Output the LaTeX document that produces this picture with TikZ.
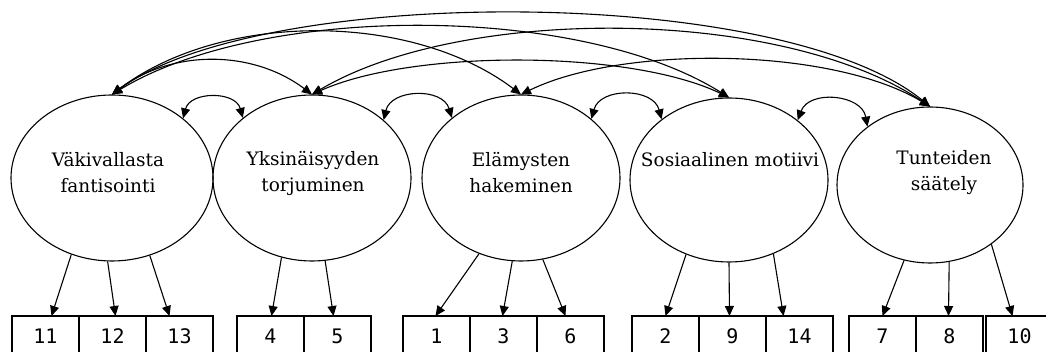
\documentclass[tikz,border=0pt]{standalone}
\usepackage{fontspec}
\setmainfont{DejaVu Serif}
\newfontfamily\numfont{DejaVu Sans Mono}
\usetikzlibrary{arrows.meta, positioning, shapes.geometric}

\begin{document}
\begin{tikzpicture}[
    x=1pt, y=1pt,
    factor/.style={draw, ellipse, line width=1.1pt, inner sep=0pt},
    ftext/.style={align=center, inner sep=0pt, font=\fontsize{18.5}{26}\selectfont},
    item/.style={draw, line width=1.2pt, minimum width=67pt, minimum height=40pt, inner sep=0pt, outer sep=0pt, font=\numfont\fontsize{20}{22}\selectfont},
    arrow/.style={-{Triangle[length=10pt, width=9pt]}, line width=1.1pt},
    cov/.style={{Triangle[length=10pt, width=9pt]}-{Triangle[length=10pt, width=9pt]}, line width=1.1pt},
]
\useasboundingbox (0,0) rectangle (1046,352);

\node[factor, minimum width=202pt, minimum height=166pt] (e1) at (112,174) {};
\node[factor, minimum width=198pt, minimum height=166pt] (e2) at (312,174) {};
\node[factor, minimum width=198pt, minimum height=166pt] (e3) at (521,174) {};
\node[factor, minimum width=198pt, minimum height=164pt] (e4) at (729,172) {};
\node[factor, minimum width=186pt, minimum height=156pt] (e5) at (930,167) {};

\node[ftext] (t1) at ([shift={(-4,5)}]e1.center) {Väkivallasta\\fantisointi};
\node[ftext] (t2) at ([shift={(1,5)}]e2.center) {Yksinäisyyden\\torjuminen};
\node[ftext] (t3) at ([shift={(0,5)}]e3.center) {Elämysten\\hakeminen};
\node[ftext] (t4) at ([shift={(1,20)}]e4.center) {Sosiaalinen motiivi};
\node[ftext] (t5) at ([shift={(14,12)}]e5.center) {Tunteiden\\säätely};

\node[item, anchor=north west] (b11) at (12,36) {11};
\node[item, right=0pt of b11] (b12) {12};
\node[item, right=0pt of b12] (b13) {13};
\node[item, anchor=north west] (b4) at (237,36) {4};
\node[item, right=0pt of b4] (b5) {5};
\node[item, anchor=north west] (b1) at (403,36) {1};
\node[item, right=0pt of b1] (b3) {3};
\node[item, right=0pt of b3] (b6) {6};
\node[item, anchor=north west] (b2) at (632,36) {2};
\node[item, right=0pt of b2] (b9) {9};
\node[item, right=0pt of b9] (b14) {14};
\node[item, anchor=north west] (b7) at (849,36) {7};
\node[item, right=0pt of b7] (b8) {8};
\node[item, anchor=north west] (b10) at (986,36) {10};

\draw[arrow] (e1.242) -- ([xshift=6pt]b11.north);
\draw[arrow] (e1.267) -- ([xshift=3pt]b12.north);
\draw[arrow] (e1.296) -- ([xshift=-10pt]b13.north);
\draw[arrow] (e2.249) -- ([xshift=1pt]b4.north);
\draw[arrow] (e2.279) -- ([xshift=-4pt]b5.north);
\draw[arrow] (e3.241) -- ([xshift=-1pt]b1.north);
\draw[arrow] (e3.264) -- ([xshift=-1pt]b3.north);
\draw[arrow] (e3.285) -- ([xshift=-5pt]b6.north);
\draw[arrow] (e4.240) -- (b2.north);
\draw[arrow] (e4.270) -- ([xshift=-3pt]b9.north);
\draw[arrow] (e4.301) -- ([xshift=-16pt]b14.north);
\draw[arrow] (e5.251) -- (b7.north);
\draw[arrow] (e5.284) -- ([xshift=-1pt]b8.north);
\draw[arrow] (e5.316) -- ([xshift=-7pt]b10.north);

\draw[cov] (e1.40) to[bend left=75, looseness=1.2] (e2.139);
\draw[cov] (e2.39) to[bend left=75, looseness=1.2] (e3.139);
\draw[cov] (e3.40) to[bend left=75, looseness=1.2] (e4.138);
\draw[cov] (e4.41) to[bend left=75, looseness=1.2] (e5.137);

\draw[cov] (e1.north) .. controls +(60,45) and +(-60,45) .. (e2.north);
\draw[cov] (e1.north) .. controls +(110,83) and +(-110,83) .. (e3.north);
\draw[cov] (e1.north) .. controls +(150,91) and +(-150,94) .. (e4.north);
\draw[cov] (e1.north) .. controls +(150,110) and +(-150,122) .. (e5.north);
\draw[cov] (e2.north) .. controls +(100,45) and +(-100,48) .. (e4.north);
\draw[cov] (e2.north) .. controls +(150,89) and +(-150,100) .. (e5.north);
\draw[cov] (e3.north) .. controls +(100,49) and +(-100,60) .. (e5.north);
\end{tikzpicture}
\end{document}
